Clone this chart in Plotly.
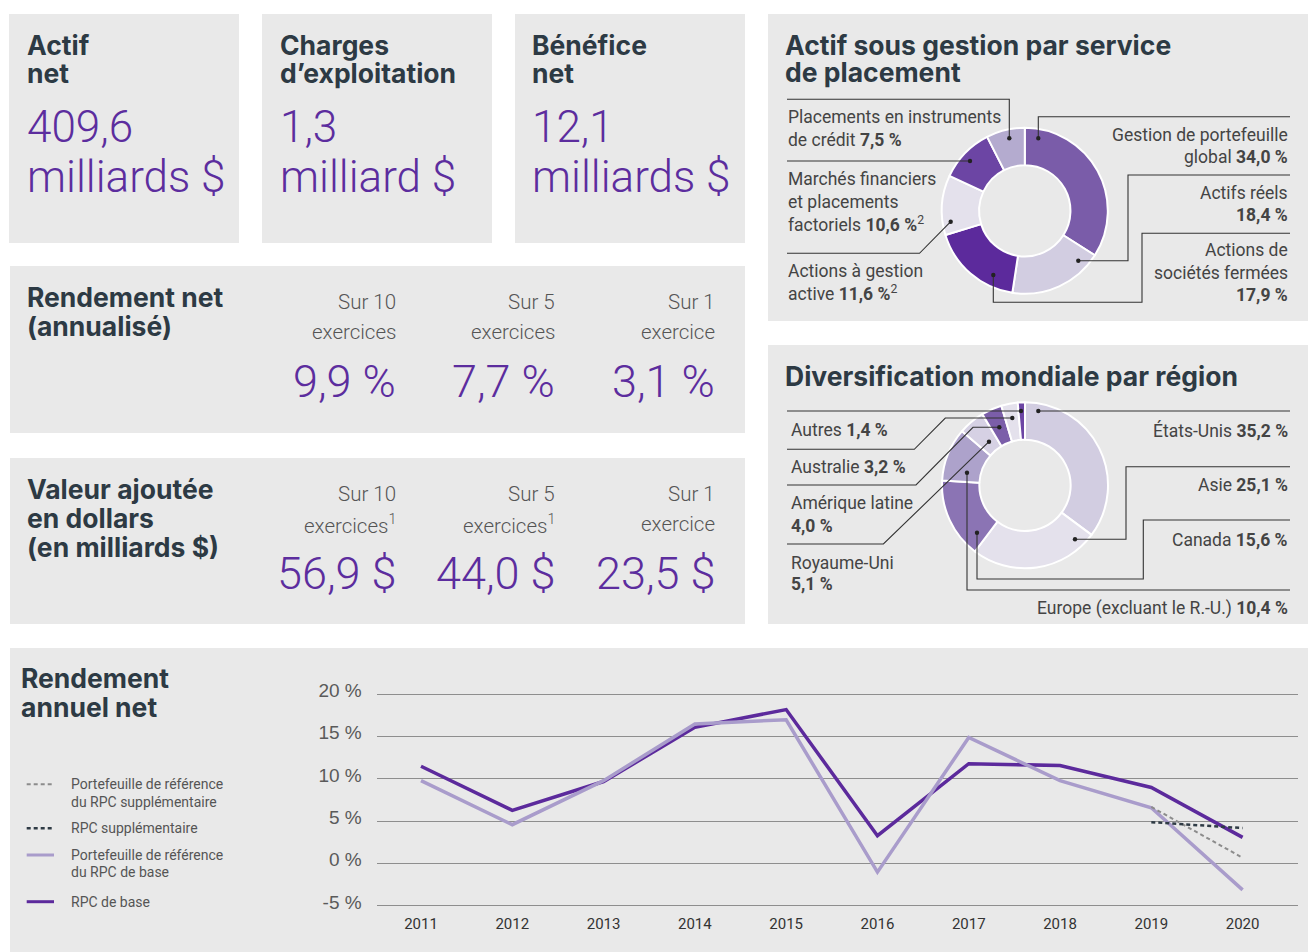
import plotly.graph_objects as go

W, H = 1308, 952

# ---------------- data ----------------
kpi_titles = [["Actif", "net"], ["Charges", "d’exploitation"], ["Bénéfice", "net"]]
kpi_values = [["409,6", "milliards $"], ["1,3", "milliard $"], ["12,1", "milliards $"]]

period_top = ["Sur 10", "Sur 5", "Sur 1"]
period_bottom = ["exercices", "exercices", "exercice"]
period_bottom_va = ["exercices<sup>1</sup>", "exercices<sup>1</sup>", "exercice"]
net_return = ["9,9 %", "7,7 %", "3,1 %"]
value_added = ["56,9 $", "44,0 $", "23,5 $"]

alloc_labels = ["Gestion de portefeuille global", "Actifs réels", "Actions de sociétés fermées",
                "Actions à gestion active", "Marchés financiers et placements factoriels",
                "Placements en instruments de crédit"]
alloc_values = [34.0, 18.4, 17.9, 11.6, 10.6, 7.5]
alloc_colors = ["#7a5ca9", "#d2cde1", "#5c2a9c", "#e4e1ec", "#6c45a4", "#b4abcf"]

region_labels = ["États-Unis", "Asie", "Canada", "Europe (excluant le R.-U.)", "Royaume-Uni",
                 "Amérique latine", "Australie", "Autres"]
region_values = [35.2, 25.1, 15.6, 10.4, 5.1, 4.0, 3.2, 1.4]
region_colors = ["#d2cde1", "#e4e1ec", "#8b74b4", "#ada2cb", "#d6d1e4", "#7b5ea9", "#e4e1ec", "#6c45a4"]

years = [2011, 2012, 2013, 2014, 2015, 2016, 2017, 2018, 2019, 2020]
rpc_base = [11.5, 6.3, 9.7, 16.1, 18.2, 3.3, 11.8, 11.6, 9.0, 3.1]
ref_base = [9.8, 4.6, 9.8, 16.5, 17.0, -1.0, 14.9, 9.8, 6.6, -3.1]
supp_years = [2019, 2020]
rpc_supp = [4.9, 4.2]
ref_supp = [6.7, 0.7]
y_ticks = [-5, 0, 5, 10, 15, 20]
y_tick_labels = ["-5 %", "0 %", "5 %", "10 %", "15 %", "20 %"]
legend_names = [["Portefeuille de référence", "du RPC supplémentaire"], ["RPC supplémentaire"],
                ["Portefeuille de référence", "du RPC de base"], ["RPC de base"]]

# ---------------- styles ----------------
PANEL = "#e9e9e9"
TITLE_C = "#2d3a44"
PURPLE = "#5c2d9e"
GREY_T = "#555555"
LABEL_C = "#444444"
C_BASE = "#5c2a9c"
C_REF = "#a99ccb"
C_SUPP = "#2f3b45"
C_REFSUPP = "#8c8c8c"
TITLE_FAMILY = "Inter"
TITLE_SIZE = 26.5


def X(px):
    return px / W


def Y(py):
    return 1 - py / H


shapes = []
annotations = []


def panel(x0, y0, x1, y1):
    shapes.append(dict(type="rect", xref="paper", yref="paper", x0=X(x0), x1=X(x1), y0=Y(y1), y1=Y(y0),
                       fillcolor=PANEL, line=dict(width=0), layer="below"))


def txt(x, yc, text, size, color, family="Roboto", weight=400, anchor="left"):
    annotations.append(dict(xref="paper", yref="paper", x=X(x), y=Y(yc), text=text, showarrow=False,
                            xanchor=anchor, yanchor="middle", align=anchor,
                            font=dict(family=family, size=size, color=color, weight=weight)))


def title(x, yc, text, size=TITLE_SIZE):
    txt(x - 2, yc, text, size, TITLE_C, family=TITLE_FAMILY, weight=700)


def leader(points):
    d = "M " + " L ".join(f"{X(px)},{Y(py)}" for px, py in points)
    shapes.append(dict(type="path", xref="paper", yref="paper", path=d,
                       line=dict(color="#333333", width=1.1), layer="above"))
    cx, cy = points[-1]
    r = 2.2
    shapes.append(dict(type="circle", xref="paper", yref="paper", x0=X(cx - r), x1=X(cx + r),
                       y0=Y(cy + r), y1=Y(cy - r), fillcolor="#222222", line=dict(width=0), layer="above"))


# ---------------- panels ----------------
for x0, x1 in [(9, 239), (262, 492), (515, 745)]:
    panel(x0, 14, x1, 243)
panel(10, 266, 745, 433)
panel(10, 458, 745, 624)
panel(768, 14, 1308, 321)
panel(768, 345, 1308, 624)
panel(10, 648, 1308, 952)

# ---------------- KPI boxes ----------------
for i, x in enumerate([27, 280, 532]):
    title(x, 44.5, kpi_titles[i][0])
    title(x, 73.5, kpi_titles[i][1])
    txt(x - 2, 127, kpi_values[i][0], 44, PURPLE, weight=300)
    txt(x - 2, 177, kpi_values[i][1], 44, PURPLE, weight=300)

title(27, 297, "Rendement net")
title(27, 325.5, "(annualisé)")
title(27, 489, "Valeur ajoutée")
title(27, 518, "en dollars")
title(27, 547, "(en milliards $)")
for i, xr in enumerate([397.5, 557, 717]):
    txt(xr, 302, period_top[i], 20.5, GREY_T, weight=300, anchor="right")
    txt(xr, 332, period_bottom[i], 20.5, GREY_T, weight=300, anchor="right")
    txt(xr, 381.5, net_return[i], 45, PURPLE, weight=300, anchor="right")
    txt(xr, 494, period_top[i], 20.5, GREY_T, weight=300, anchor="right")
    txt(xr, 524, period_bottom_va[i], 20.5, GREY_T, weight=300, anchor="right")
    txt(xr, 573.5, value_added[i], 45, PURPLE, weight=300, anchor="right")

# ---------------- donut 1 ----------------
title(785, 44.5, "Actif sous gestion par service")
title(785, 72.5, "de placement")


def fmt(v):
    return f"{v:.1f}".replace(".", ",") + " %"


LS = 17.5
txt(786, 116.5, "Placements en instruments", LS, LABEL_C)
txt(786, 139.5, f"de crédit <b>{fmt(alloc_values[5])}</b>", LS, LABEL_C)
txt(786, 179, "Marchés financiers", LS, LABEL_C)
txt(786, 201.5, "et placements", LS, LABEL_C)
txt(786, 224, f"factoriels <b>{fmt(alloc_values[4])}</b><sup>2</sup>", LS, LABEL_C)
txt(786, 271, "Actions à gestion", LS, LABEL_C)
txt(786, 292.5, f"active <b>{fmt(alloc_values[3])}</b><sup>2</sup>", LS, LABEL_C)
txt(1290, 135.5, "Gestion de portefeuille", LS, LABEL_C, anchor="right")
txt(1290, 157.5, f"global <b>{fmt(alloc_values[0])}</b>", LS, LABEL_C, anchor="right")
txt(1290, 193, "Actifs réels", LS, LABEL_C, anchor="right")
txt(1290, 215, f"<b>{fmt(alloc_values[1])}</b>", LS, LABEL_C, anchor="right")
txt(1290, 250.5, "Actions de", LS, LABEL_C, anchor="right")
txt(1290, 272.5, "sociétés fermées", LS, LABEL_C, anchor="right")
txt(1290, 294.5, f"<b>{fmt(alloc_values[2])}</b>", LS, LABEL_C, anchor="right")

leader([(787, 99.3), (1009.3, 99.3), (1009.3, 138.3)])
leader([(787, 161), (970, 161)])
leader([(787, 253.3), (919.5, 253.3), (950.7, 221.7)])
leader([(1290, 116.7), (1038.3, 116.7), (1038.3, 138.3)])
leader([(1290, 175), (1128, 175), (1128, 260.7), (1078.3, 260.7)])
leader([(1290, 233.3), (1142, 233.3), (1142, 302.3), (993.3, 302.3), (993.3, 275)])

# ---------------- donut 2 ----------------
title(785, 376, "Diversification mondiale par région")
txt(789, 430, f"Autres <b>{fmt(region_values[7])}</b>", LS, LABEL_C)
txt(789, 466.7, f"Australie <b>{fmt(region_values[6])}</b>", LS, LABEL_C)
txt(789, 503.3, "Amérique latine", LS, LABEL_C)
txt(789, 526, f"<b>{fmt(region_values[5])}</b>", LS, LABEL_C)
txt(789, 563, "Royaume-Uni", LS, LABEL_C)
txt(789, 584, f"<b>{fmt(region_values[4])}</b>", LS, LABEL_C)
txt(1290, 430.5, f"États-Unis <b>{fmt(region_values[0])}</b>", LS, LABEL_C, anchor="right")
txt(1290, 485, f"Asie <b>{fmt(region_values[1])}</b>", LS, LABEL_C, anchor="right")
txt(1290, 540, f"Canada <b>{fmt(region_values[2])}</b>", LS, LABEL_C, anchor="right")
txt(1290, 608.5, f"Europe (excluant le R.-U.) <b>{fmt(region_values[3])}</b>", LS, LABEL_C, anchor="right")

leader([(787, 411), (1021, 411)])
leader([(787, 449.3), (914.3, 449.3), (945.3, 418), (1012.3, 418)])
leader([(787, 485), (916, 485), (973, 427.3), (999.3, 427.3)])
leader([(787, 544), (883.4, 544), (989, 441.7)])
leader([(1290, 411), (1038.3, 411)])
leader([(1290, 466.7), (1126, 466.7), (1126, 539.3), (1075, 539.3)])
leader([(1290, 520), (1143.3, 520), (1143.3, 579), (977, 579), (977, 532.7)])
leader([(1290, 590), (967, 590), (967, 472.7)])

# ---------------- bottom chart titles & legend ----------------
title(20.7, 677.5, "Rendement")
title(20.7, 706.5, "annuel net")

legend_styles = [(C_REFSUPP, 2, "4px,3px"), (C_SUPP, 2.5, "4px,3px"), (C_REF, 3, "solid"), (C_BASE, 3, "solid")]
legend_rows = [[784.3, 801.7], [828.3], [855, 872.3], [901.7]]
for (col, wid, dash), rows, names in zip(legend_styles, legend_rows, legend_names):
    shapes.append(dict(type="line", xref="paper", yref="paper", x0=X(26.7), x1=X(54), y0=Y(rows[0]),
                       y1=Y(rows[0]), line=dict(color=col, width=wid, dash=dash)))
    for yc, nm in zip(rows, names):
        txt(69, yc, nm, 14, GREY_T)

# ---------------- figure ----------------
fig = go.Figure()

r1 = 83
c1 = (1024.8, 210.8)
fig.add_trace(go.Pie(values=alloc_values, labels=alloc_labels, sort=False, direction="clockwise",
                     rotation=0, hole=0.55, textinfo="none", showlegend=False,
                     marker=dict(colors=alloc_colors, line=dict(color="white", width=2)),
                     domain=dict(x=[X(c1[0] - r1), X(c1[0] + r1)], y=[Y(c1[1] + r1), Y(c1[1] - r1)])))
c2 = (1025, 485.3)
fig.add_trace(go.Pie(values=region_values, labels=region_labels, sort=False, direction="clockwise",
                     rotation=0, hole=0.55, textinfo="none", showlegend=False,
                     marker=dict(colors=region_colors, line=dict(color="white", width=2)),
                     domain=dict(x=[X(c2[0] - r1), X(c2[0] + r1)], y=[Y(c2[1] + r1), Y(c2[1] - r1)])))

fig.add_trace(go.Scatter(x=years, y=rpc_base, mode="lines", name="RPC de base",
                         line=dict(color=C_BASE, width=3.5), showlegend=False))
fig.add_trace(go.Scatter(x=years, y=ref_base, mode="lines", name="Portefeuille de référence du RPC de base",
                         line=dict(color=C_REF, width=3.5), showlegend=False))
fig.add_trace(go.Scatter(x=supp_years, y=ref_supp, mode="lines",
                         name="Portefeuille de référence du RPC supplémentaire",
                         line=dict(color=C_REFSUPP, width=2, dash="4px,3px"), showlegend=False))
fig.add_trace(go.Scatter(x=supp_years, y=rpc_supp, mode="lines", name="RPC supplémentaire",
                         line=dict(color=C_SUPP, width=2.5, dash="4px,3px"), showlegend=False))

px_per_year = 91.29
x_left, x_right = 376.7, 1298
x0_year = 421
xr = [years[0] - (x0_year - x_left) / px_per_year,
      years[0] + (x_right - x0_year) / px_per_year]

fig.update_layout(
    width=W, height=H, autosize=False,
    margin=dict(l=0, r=0, t=0, b=0, pad=0, autoexpand=False),
    paper_bgcolor="white", plot_bgcolor="rgba(0,0,0,0)",
    showlegend=False,
    shapes=shapes, annotations=annotations,
    xaxis=dict(domain=[X(x_left), X(x_right)], range=xr, tickvals=years, ticktext=[str(y) for y in years],
               showgrid=False, zeroline=False, showline=False, ticks="", automargin=False,
               tickfont=dict(family="Roboto", size=15, color="#333333"), ticklabelstandoff=3),
    yaxis=dict(domain=[Y(910.2), Y(690.1)], range=[-5.5, 20.5], tickvals=y_ticks, ticktext=y_tick_labels,
               showgrid=True, gridcolor="#8e8e8e", gridwidth=1, zeroline=False, showline=False, ticks="",
               automargin=False,
               tickfont=dict(family="Liberation Sans", size=19, color="#5a5a5a"),
               ticklabelstandoff=14, ticklabelshift=-4),
    hovermode="closest",
)

fig.write_html("out.html", config={"displayModeBar": False},
               post_script="document.body.style.margin='0';")
